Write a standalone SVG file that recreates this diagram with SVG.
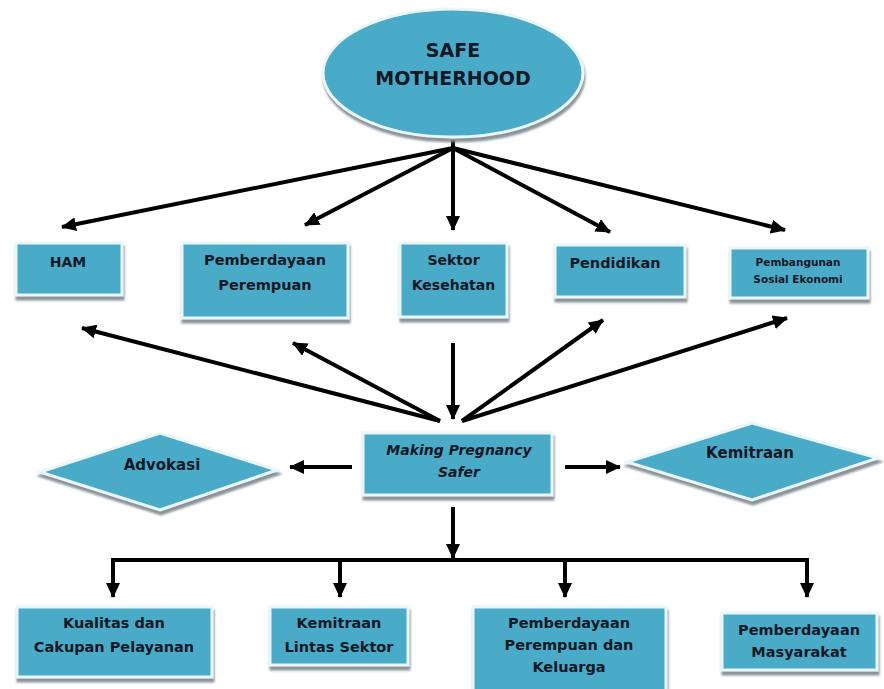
<svg xmlns="http://www.w3.org/2000/svg" width="884" height="689" viewBox="0 0 884 689">
<style>
.box{fill:#4AABC8;stroke:#eaf6fa;stroke-width:3;filter:url(#sh)}
.t{font-family:"DejaVu Sans","Liberation Sans",sans-serif;font-weight:bold;fill:#121826;text-anchor:middle}
.c{stroke:#000;stroke-width:4;fill:none}
.a{marker-end:url(#ah)}
</style>
<defs>
<filter id="sh" x="-10%" y="-10%" width="125%" height="135%">
<feDropShadow dx="1" dy="4" stdDeviation="1.2" flood-color="#7d878f" flood-opacity="0.9"/>
</filter>
<marker id="ah" markerUnits="userSpaceOnUse" markerWidth="15" markerHeight="14" viewBox="0 0 15 14" refX="14" refY="7" orient="auto">
<path d="M0,0 L15,7 L0,14 z" fill="#000"/>
</marker>
</defs>
<rect width="884" height="689" fill="#fff"/>
<g id="connectors">
<line class="c a" x1="453" y1="148" x2="62" y2="227"/>
<line class="c a" x1="453" y1="148" x2="305" y2="225"/>
<line class="c a" x1="453" y1="140" x2="453" y2="230"/>
<line class="c a" x1="453" y1="148" x2="610" y2="232"/>
<line class="c a" x1="453" y1="148" x2="785" y2="230"/>
<line class="c a" x1="440" y1="421" x2="82" y2="328"/>
<line class="c a" x1="440" y1="421" x2="293" y2="343"/>
<line class="c a" x1="453" y1="343" x2="453" y2="419"/>
<line class="c a" x1="462" y1="421" x2="603" y2="320"/>
<line class="c a" x1="462" y1="421" x2="787" y2="318"/>
<line class="c a" x1="352" y1="467" x2="290" y2="467"/>
<line class="c a" x1="565" y1="467" x2="620" y2="467"/>
<line class="c a" x1="453" y1="507" x2="453" y2="558"/>
<polyline class="c" points="113,580 113,560 807,560 807,580"/>
<line class="c a" x1="113" y1="560" x2="113" y2="597"/>
<line class="c a" x1="340" y1="560" x2="340" y2="597"/>
<line class="c a" x1="565" y1="560" x2="565" y2="597"/>
<line class="c a" x1="807" y1="560" x2="807" y2="597"/>
</g>
<g id="safe-motherhood">
<ellipse class="box" cx="453" cy="73" rx="130" ry="64"/>
<text class="t" x="453" y="57" font-size="19">SAFE</text>
<text class="t" x="453" y="85" font-size="19">MOTHERHOOD</text>
</g>
<g id="ham">
<rect class="box" x="16" y="243" width="106" height="52"/>
<text class="t" x="68" y="267" font-size="14">HAM</text>
</g>
<g id="pemberdayaan-perempuan">
<rect class="box" x="182" y="243" width="166" height="75"/>
<text class="t" x="265" y="265" font-size="14.5">Pemberdayaan</text>
<text class="t" x="265" y="290" font-size="14.5">Perempuan</text>
</g>
<g id="sektor-kesehatan">
<rect class="box" x="400" y="243" width="107" height="74"/>
<text class="t" x="453.5" y="265" font-size="14">Sektor</text>
<text class="t" x="453.5" y="290" font-size="14">Kesehatan</text>
</g>
<g id="pendidikan">
<rect class="box" x="555" y="245" width="130" height="52"/>
<text class="t" x="615" y="268" font-size="14.5">Pendidikan</text>
</g>
<g id="pembangunan">
<rect class="box" x="730" y="248" width="138" height="50"/>
<text class="t" x="798" y="266" font-size="10.5">Pembangunan</text>
<text class="t" x="798" y="283" font-size="10.5">Sosial Ekonomi</text>
</g>
<g id="making-pregnancy-safer">
<rect class="box" x="363" y="433" width="189" height="62"/>
<text class="t" x="459" y="455" font-size="14" font-style="italic">Making Pregnancy</text>
<text class="t" x="459" y="477" font-size="14" font-style="italic">Safer</text>
</g>
<g id="advokasi">
<polygon class="box" points="40,472 160,433 277,470 160,510"/>
<text class="t" x="162" y="470" font-size="15">Advokasi</text>
</g>
<g id="kemitraan">
<polygon class="box" points="627,462 752,423 878,458 752,500"/>
<text class="t" x="750" y="458" font-size="15">Kemitraan</text>
</g>
<g id="kualitas">
<rect class="box" x="17" y="607" width="195" height="70"/>
<text class="t" x="114" y="628" font-size="14.5">Kualitas dan</text>
<text class="t" x="114" y="652" font-size="14.5">Cakupan Pelayanan</text>
</g>
<g id="kemitraan-lintas-sektor">
<rect class="box" x="270" y="607" width="138" height="58"/>
<text class="t" x="339" y="628" font-size="14.5">Kemitraan</text>
<text class="t" x="339" y="652" font-size="14.5">Lintas Sektor</text>
</g>
<g id="pemberdayaan-perempuan-keluarga">
<rect class="box" x="473" y="607" width="193" height="84"/>
<text class="t" x="569" y="628" font-size="14.5">Pemberdayaan</text>
<text class="t" x="569" y="650" font-size="14.5">Perempuan dan</text>
<text class="t" x="569" y="672" font-size="14.5">Keluarga</text>
</g>
<g id="pemberdayaan-masyarakat">
<rect class="box" x="722" y="613" width="155" height="57"/>
<text class="t" x="799" y="635" font-size="14.5">Pemberdayaan</text>
<text class="t" x="799" y="657" font-size="14.5">Masyarakat</text>
</g>
</svg>
